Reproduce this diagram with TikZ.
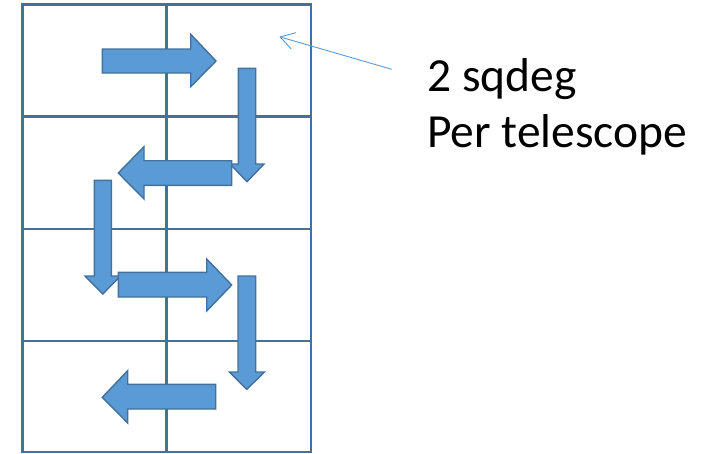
\documentclass[tikz,border=0pt]{standalone}
\usepackage{fontspec}
\setmainfont{Carlito}
\usetikzlibrary{arrows.meta}
\definecolor{gridblue}{HTML}{41719C}
\definecolor{fillblue}{HTML}{5B9BD5}
\tikzset{
  gridline/.style={draw=gridblue, line width=2.2pt},
  blockarrow/.style={fill=fillblue, draw=gridblue, line width=1.4pt, line join=miter},
  pointer/.style={draw=fillblue, line width=0.9pt, -{Straight Barb[length=14pt, width=17pt, line width=0.9pt]}},
  label/.style={font=\fontsize{47.5}{56}\selectfont, anchor=base west, inner sep=0pt}
}
\begin{document}
\begin{tikzpicture}[x=1pt, y=-1pt]
\useasboundingbox (0,0) rectangle (715,453);
% grid
\draw[gridline] (22.5,4.5) rectangle (311,452);
\draw[gridline] (166.5,4.5) -- (166.5,452);
\draw[gridline] (22.5,116.5) -- (311,116.5);
\draw[gridline] (22.5,229) -- (311,229);
\draw[gridline] (22.5,341) -- (311,341);
% block arrows
\filldraw[blockarrow] (102.3,49) -- (190.7,49) -- (190.7,34.3) -- (216,61) -- (190.7,86.7) -- (190.7,73) -- (102.3,73) -- cycle;
\filldraw[blockarrow] (238.3,68.3) -- (255.7,68.3) -- (255.7,164) -- (264,164) -- (247,181.7) -- (230,164) -- (238.3,164) -- cycle;
\filldraw[blockarrow] (231.7,160.7) -- (231.7,185.3) -- (144,185.3) -- (144,199) -- (118.3,173) -- (144,146.7) -- (144,160.7) -- cycle;
\filldraw[blockarrow] (94.3,180.3) -- (111.3,180.3) -- (111.3,276) -- (120.5,276) -- (102.8,294) -- (85,276) -- (94.3,276) -- cycle;
\filldraw[blockarrow] (118.3,272.3) -- (206.7,272.3) -- (206.7,259) -- (231.7,285) -- (206.7,311) -- (206.7,297) -- (118.3,297) -- cycle;
\filldraw[blockarrow] (238,276) -- (255.7,276) -- (255.7,372) -- (264.5,372) -- (246.8,389.3) -- (229.3,372) -- (238,372) -- cycle;
\filldraw[blockarrow] (215.7,384.3) -- (215.7,409) -- (127.7,409) -- (127.7,423) -- (102.3,397.3) -- (127.7,370.7) -- (127.7,384.3) -- cycle;
% pointer
\coordinate (ptail) at (391.7,69.3);
\coordinate (phead) at (279.3,36.7);
\draw[pointer] (ptail) -- (phead);
% labels
\node[label] (l1) at (427,91.7) {2 sqdeg};
\node[label] (l2) at (427,147.7) {Per telescope};
\end{tikzpicture}
\end{document}
